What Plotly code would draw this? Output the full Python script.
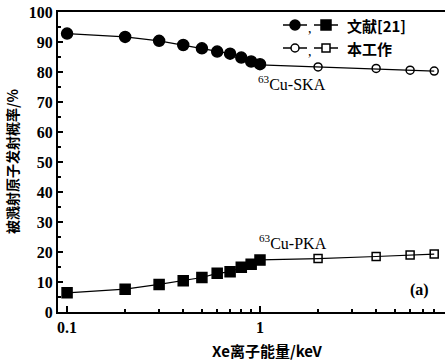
import plotly.graph_objects as go

# ---- data ----
energy_ref = [0.1, 0.2, 0.3, 0.4, 0.5, 0.6, 0.7, 0.8, 0.9, 1.0]
ska_ref = [92.8, 91.7, 90.4, 89.0, 87.9, 86.8, 86.1, 84.8, 83.5, 82.6]
pka_ref = [6.4, 7.6, 9.2, 10.4, 11.5, 12.9, 13.4, 14.9, 15.9, 17.3]

energy_work = [1.0, 2.0, 4.0, 6.0, 8.0]
ska_work = [82.4, 81.7, 81.2, 80.6, 80.3]
pka_work = [17.4, 17.8, 18.5, 19.0, 19.3]

x_tickvals = [0.1, 1]
x_ticktext = ["0.1", "1"]
x_minor = [0.2, 0.3, 0.4, 0.5, 0.6, 0.7, 0.8, 0.9, 2, 3, 4, 5, 6, 7, 8, 9]
y_tickvals = [0, 10, 20, 30, 40, 50, 60, 70, 80, 90, 100]

W, H = 447, 362
L, R, T, B = 58, 2, 12, 50
PW, PH = W - L - R, H - T - B

def px(x):
    return (x - L) / PW

def py(y):
    return (H - B - y) / PH

SERIF = "Liberation Serif"
CJK = "Noto Sans CJK SC"

fig = go.Figure()

def add(xs, ys, sym, size, name):
    fig.add_trace(go.Scatter(
        x=xs, y=ys, mode="lines+markers", name=name, showlegend=False,
        line=dict(color="black", width=1.2),
        marker=dict(symbol=sym, size=size, color="black",
                    line=dict(color="black", width=1.5)),
    ))

add(energy_ref, ska_ref, "circle", 11, "SKA ref")
add(energy_ref, pka_ref, "square", 10, "PKA ref")
add(energy_work, ska_work, "circle-open", 8, "SKA work")
add(energy_work, pka_work, "square-open", 8, "PKA work")

shapes = []
annotations = []

# legend glyphs
def glyph(xc, yc, kind, filled):
    shapes.append(dict(type="line", xref="paper", yref="paper",
                       x0=px(xc - 12), x1=px(xc + 12), y0=py(yc), y1=py(yc),
                       line=dict(color="black", width=1.5)))
    r = 5 if filled else 4
    shapes.append(dict(type=kind, xref="paper", yref="paper",
                       xsizemode="pixel", ysizemode="pixel",
                       xanchor=px(xc), yanchor=py(yc),
                       x0=-r, x1=r, y0=-r, y1=r,
                       fillcolor="black" if filled else "white",
                       line=dict(color="black", width=1.5)))

for yc, filled, label in [(25, True, "文献[21]"), (48, False, "本工作")]:
    glyph(295, yc, "circle", filled)
    glyph(326, yc, "rect", filled)
    annotations.append(dict(xref="paper", yref="paper", x=px(310), y=py(yc + 3),
                            text=",", showarrow=False, xanchor="center", yanchor="middle",
                            font=dict(family=SERIF, size=14, color="black")))
    annotations.append(dict(xref="paper", yref="paper", x=px(345), y=py(yc),
                            text=label, showarrow=False, xanchor="left", yanchor="middle",
                            font=dict(family=CJK, size=15, color="black", weight="bold")))

annotations += [
    dict(xref="paper", yref="paper", x=px(256), y=py(83),
         text="<sup>63</sup>Cu-SKA", showarrow=False, xanchor="left", yanchor="middle",
         font=dict(family=SERIF, size=16, color="black")),
    dict(xref="paper", yref="paper", x=px(257), y=py(242),
         text="<sup>63</sup>Cu-PKA", showarrow=False, xanchor="left", yanchor="middle",
         font=dict(family=SERIF, size=16, color="black")),
    dict(xref="paper", yref="paper", x=px(419), y=py(290),
         text="(a)", showarrow=False, xanchor="center", yanchor="middle",
         font=dict(family=SERIF, size=16, color="black", weight="bold")),
    dict(xref="paper", yref="paper", x=px(267), y=py(350),
         text="Xe离子能量/keV", showarrow=False, xanchor="center", yanchor="middle",
         font=dict(family=CJK, size=15, color="black", weight="bold")),
    dict(xref="paper", yref="paper", x=px(12), y=py(162),
         text="被溅射原子发射概率/%", showarrow=False, textangle=-90,
         xanchor="center", yanchor="middle",
         font=dict(family=CJK, size=14, color="black", weight="bold")),
]

fig.update_layout(
    width=W, height=H,
    margin=dict(l=L, r=R, t=T, b=B, autoexpand=False),
    paper_bgcolor="white", plot_bgcolor="white",
    shapes=shapes, annotations=annotations,
    showlegend=False,
)

fig.update_xaxes(
    type="log", range=[-1.047, 0.959], automargin=False,
    showgrid=False, zeroline=False,
    showline=True, linecolor="black", linewidth=2, mirror=True,
    tickmode="array", tickvals=x_tickvals, ticktext=x_ticktext,
    ticks="inside", ticklen=6, tickwidth=1.5, tickcolor="black",
    tickfont=dict(family=SERIF, size=16, color="black", weight="bold"),
    minor=dict(tickvals=x_minor, ticks="inside", ticklen=3, tickwidth=1.5, tickcolor="black"),
)
fig.update_yaxes(
    range=[0, 100], automargin=False,
    showgrid=False, zeroline=False,
    showline=True, linecolor="black", linewidth=2, mirror=False,
    tickmode="array", tickvals=y_tickvals,
    ticks="inside", ticklen=5, tickwidth=1.5, tickcolor="black",
    tickfont=dict(family=SERIF, size=16, color="black", weight="bold"),
    minor=dict(dtick=5, ticks="inside", ticklen=3, tickwidth=1.5, tickcolor="black"),
)

fig.write_html("out.html",
               config={"displayModeBar": False},
               post_script="document.body.style.margin='0';document.body.style.overflow='hidden';")
